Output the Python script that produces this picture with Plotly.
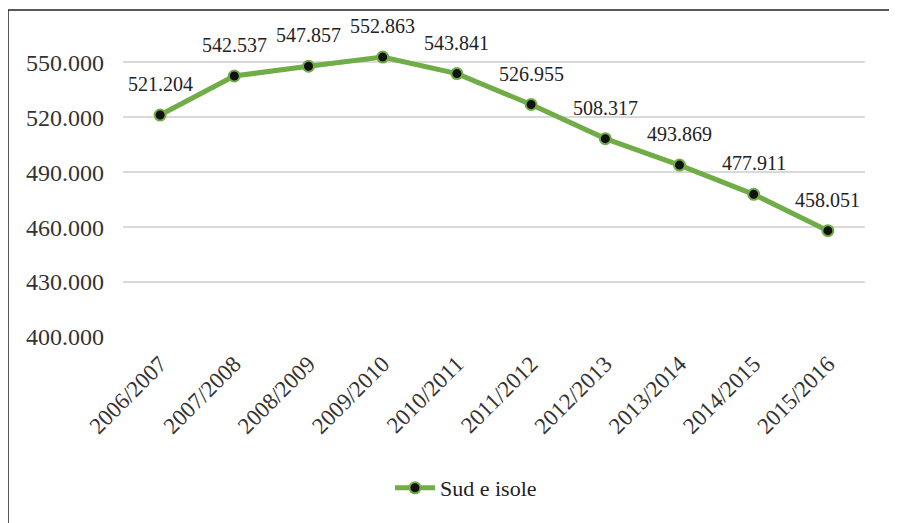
import plotly.graph_objects as go

# Data
anni = ["2006/2007", "2007/2008", "2008/2009", "2009/2010", "2010/2011",
        "2011/2012", "2012/2013", "2013/2014", "2014/2015", "2015/2016"]
sud_isole = [521204, 542537, 547857, 552863, 543841,
             526955, 508317, 493869, 477911, 458051]
y_ticks = [400000, 430000, 460000, 490000, 520000, 550000]

# the page body adds an 8px offset, so work in reference pixels minus 8
OFF = 8
W, H = 897 - OFF, 523 - OFF
M_L, M_R, M_T, M_B = 123 - OFF, 32, 44 - OFF, 186
PW, PH = W - M_L - M_R, H - M_T - M_B
SERIF = "Times New Roman, Liberation Serif, Times, serif"


def fmt_it(v):
    # Italian thousands separator
    return f"{v:,}".replace(",", ".")


def px_x(p):
    return (p - OFF - M_L) / PW


def px_y(p):
    return (H - M_B - (p - OFF)) / PH


fig = go.Figure()

fig.add_trace(go.Scatter(
    x=anni, y=sud_isole, mode="lines+markers", name="Sud e isole",
    line=dict(color="#70AD47", width=5),
    marker=dict(color="#111111", size=11, line=dict(color="#70AD47", width=2)),
))

# value labels above each point
for a, v in zip(anni, sud_isole):
    fig.add_annotation(x=a, y=v, text=fmt_it(v), showarrow=False, yshift=31,
                       font=dict(family=SERIF, size=20, color="#222222"))

# frame lines (top and left only, as in the source)
fig.add_shape(type="line", xref="paper", yref="paper",
              x0=px_x(8), x1=px_x(910), y0=px_y(10), y1=px_y(10),
              line=dict(color="#222222", width=1.5))
fig.add_shape(type="line", xref="paper", yref="paper",
              x0=px_x(8), x1=px_x(8), y0=px_y(10), y1=px_y(540),
              line=dict(color="#222222", width=1.5))

fig.update_layout(
    width=W, height=H,
    margin=dict(l=M_L, r=M_R, t=M_T, b=M_B, autoexpand=False),
    plot_bgcolor="white", paper_bgcolor="white",
    font=dict(family=SERIF, color="#333333"),
    showlegend=True,
    legend=dict(orientation="h", x=px_x(390), xanchor="left",
                y=px_y(488), yanchor="middle",
                font=dict(family=SERIF, size=22, color="#222222"), itemwidth=40),
    xaxis=dict(type="category", range=[-0.5, len(anni) - 0.5], tickangle=-45,
               showgrid=False, showline=False, ticks="", automargin=False,
               ticklabelstandoff=8,
               tickfont=dict(family=SERIF, size=23, color="#333333")),
    yaxis=dict(range=[400000, 560000], tickvals=y_ticks,
               ticktext=[fmt_it(v) for v in y_ticks], automargin=False,
               ticklabelstandoff=18,
               showgrid=True, gridcolor="#D9D9D9", gridwidth=1.5,
               zeroline=False, showline=False, ticks="",
               tickfont=dict(family=SERIF, size=24, color="#333333")),
)

fig.write_html("out.html")
